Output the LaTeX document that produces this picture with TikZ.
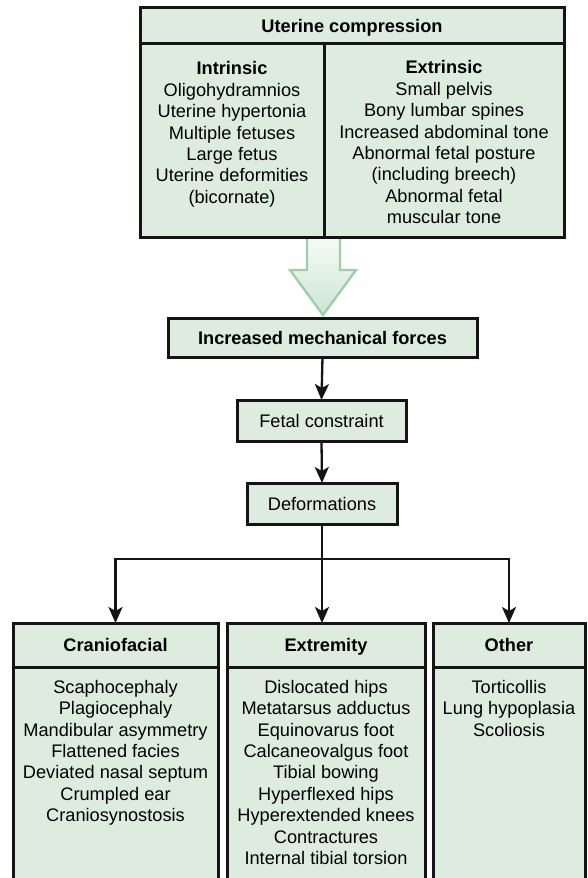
\documentclass[tikz,border=0pt]{standalone}
\usepackage{fontspec}
\setmainfont{Liberation Sans}
\usepackage{xcolor}
\usetikzlibrary{calc}
\usetikzlibrary{arrows.meta}
\def\boxedge{3}
\def\flowedge{2.3}
\definecolor{boxfill}{HTML}{DEECE0}
\definecolor{edgeblack}{rgb}{0.08,0.08,0.08}
\definecolor{bigarrowedge}{HTML}{9DD0A8}
\definecolor{bigarrowtop}{HTML}{F6FBF7}
\definecolor{bigarrowbottom}{HTML}{CDE6D3}
\newcommand{\fsz}{\fontsize{18.2}{21.4}\selectfont}
\tikzset{
  box/.style={draw=edgeblack, fill=boxfill, line width=\boxedge, inner sep=0pt, outer sep=0pt,
              text height=13.2pt, text depth=0pt, font=\fsz},
  listtext/.style={anchor=north, inner sep=0pt, align=center, font=\fsz},
  flow/.style={draw=edgeblack, line width=\flowedge, -{Stealth[length=16pt, width=14pt, inset=4pt]}},
}
\begin{document}
\begin{tikzpicture}[x = 1pt, y = -1pt]
        \useasboundingbox (0,0) rectangle (587,878);
        \clip (0,0) rectangle (587,878);

        % big arrow out of the top box
        \draw [line width=2.4, color=bigarrowedge, top color=bigarrowtop, bottom color=bigarrowbottom, line join=miter]
            (307,236) -- (307,270) -- (290,270) -- (323,315) -- (356,270) -- (340,270) -- (340,236);

        % uterine compression
            \node [box, minimum width=424, minimum height=36] (uc) at (352,25.5){\textbf{Uterine compression}};
            \node [box, minimum width=184, minimum height=194, anchor=north west] (intr) at (uc.south west){};
            \node [box, minimum width=240, minimum height=194, anchor=north east] (extr) at (uc.south east){};

            \node [listtext] (intrtext) at ($(intr.north) + (0,18)$){\textbf{Intrinsic}\\Oligohydramnios\\Uterine hypertonia\\Multiple fetuses\\Large fetus\\Uterine deformities\\(bicornate)};
            \node [listtext] (extrtext) at ($(extr.north) + (0,17)$){\textbf{Extrinsic}\\Small pelvis\\Bony lumbar spines\\Increased abdominal tone\\Abnormal fetal posture\\(including breech)\\Abnormal fetal\\muscular tone};

        % chain
            \node [box, minimum width=309, minimum height=39] (imf) at (322.5,337.5){\textbf{Increased mechanical forces}};
            \node [box, minimum width=169, minimum height=41] (fc) at (321.5,420.5){Fetal constraint};
            \node [box, minimum width=150, minimum height=41] (def) at (322,503.5){Deformations};

        \draw [flow] (imf.south) -- (fc.north);
        \draw [flow] (fc.south) -- (def.north);

        % the three groups
            \node [box, minimum width=205, minimum height=44] (cranhead) at (115.5,645){\textbf{Craniofacial}};
            \node [box, minimum width=198, minimum height=44] (exthead) at (326,645){\textbf{Extremity}};
            \node [box, minimum width=152, minimum height=44] (othhead) at (509,645){\textbf{Other}};

            \node [box, minimum width=205, minimum height=230, anchor=north] (cranbody) at (cranhead.south){};
            \node [box, minimum width=198, minimum height=230, anchor=north] (extbody) at (exthead.south){};
            \node [box, minimum width=152, minimum height=230, anchor=north] (othbody) at (othhead.south){};

            \node [listtext] (crantext) at ($(cranbody.north) + (0,13)$){Scaphocephaly\\Plagiocephaly\\Mandibular asymmetry\\Flattened facies\\Deviated nasal septum\\Crumpled ear\\Craniosynostosis};
            \node [listtext] (exttext) at ($(extbody.north) + (0,13)$){Dislocated hips\\Metatarsus adductus\\Equinovarus foot\\Calcaneovalgus foot\\Tibial bowing\\Hyperflexed hips\\Hyperextended knees\\Contractures\\Internal tibial torsion};
            \node [listtext] (othtext) at ($(othbody.north) + (0,13)$){Torticollis\\Lung hypoplasia\\Scoliosis};

        \coordinate (split) at ($(def.south) + (0,35)$);
        \draw [line width=\flowedge, color=edgeblack] (def.south) -- (split);
        \draw [flow] (split) -- (exthead.north -| split);
        \draw [flow] (split) -| (cranhead.north);
        \draw [flow] (split) -| (othhead.north);

        \end{tikzpicture}
\end{document}
